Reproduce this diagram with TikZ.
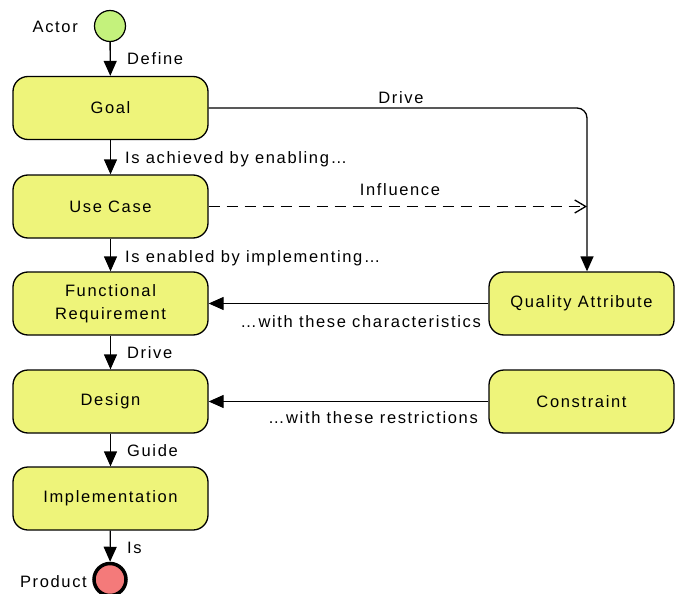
\documentclass[tikz,border=0pt]{standalone}
\usepackage{fontspec}
\setmainfont{Liberation Sans}[LetterSpace=10]
\usetikzlibrary{arrows.meta}
\definecolor{boxfill}{HTML}{EEF47A}
\definecolor{actorfill}{HTML}{C4F27C}
\definecolor{productfill}{HTML}{F47A7A}
\begin{document}
\begin{tikzpicture}[x=1pt,y=-1pt,
  every node/.style={font=\fontsize{16.5}{23}\selectfont},
  stepbox/.style={draw, line width=1.3pt, fill=boxfill, rounded corners=15pt,
    minimum width=195pt, minimum height=63pt, align=center, inner sep=0pt},
  lbl/.style={inner sep=0pt},
  flow/.style={line width=1.3pt, -{Triangle[length=15pt,width=13pt]}},
  hint/.style={line width=1.3pt, dash pattern=on 11pt off 7pt,
    -{Straight Barb[length=11pt,width=13pt]}},
]
\useasboundingbox (0,0) rectangle (675,594);

% start and end points
\node[circle, draw, line width=1.2pt, fill=actorfill, minimum size=31pt, inner sep=0pt] (actor) at (110,26) {};
\node[circle, draw, line width=3.5pt, fill=productfill, minimum size=32pt, inner sep=0pt] (product) at (110,579.5) {};

% main chain
\node[stepbox] (goal) at (110.5,108) {Goal};
\node[stepbox] (usecase) at (110.5,206.5) {Use Case};
\node[stepbox] (funreq) at (110.5,303.5) {Functional\\Requirement};
\node[stepbox] (design) at (110.5,401.5) {Design};
\node[stepbox] (impl) at (110.5,498.5) {Implementation};

% side boxes
\node[stepbox, minimum width=185pt] (quality) at (581.5,303.5) {Quality Attribute};
\node[stepbox, minimum width=185pt] (constraint) at (581.5,401.5) {Constraint};
\coordinate (qtop) at ([xshift=5.5pt]quality.north);

% connectors
\draw[flow] (actor) -- (goal);
\draw[flow] (goal) -- (usecase);
\draw[flow] (usecase) -- (funreq);
\draw[flow] (funreq) -- (design);
\draw[flow] (design) -- (impl);
\draw[flow] (impl) -- (product);
\draw[flow, rounded corners=10pt] (goal.east) -| (qtop);
\draw[hint] (usecase.east) -- (usecase.east -| qtop);
\draw[flow] (quality.west) -- (funreq.east);
\draw[flow] (constraint.west) -- (design.east);

% labels
\node[lbl, anchor=base east] (actorlbl) at (78,33) {Actor};
\node[lbl, anchor=base east] (productlbl) at (87,587) {Product};
\node[lbl, anchor=base west] (definelbl) at (127,65) {Define};
\node[lbl, anchor=base] (drivetoplbl) at (401,103) {Drive};
\node[lbl, anchor=base west] (achievedlbl) at (125,163) {Is achieved by enabling…};
\node[lbl, anchor=base] (influencelbl) at (400,195) {Influence};
\node[lbl, anchor=base west] (enabledlbl) at (125,262) {Is enabled by implementing…};
\node[lbl, anchor=base east] (charlbl) at (481,327) {…with these characteristics};
\node[lbl, anchor=base west] (drivelbl) at (127,358) {Drive};
\node[lbl, anchor=base east] (restrlbl) at (478,423) {…with these restrictions};
\node[lbl, anchor=base west] (guidelbl) at (127,456) {Guide};
\node[lbl, anchor=base west] (islbl) at (127,553) {Is};
\end{tikzpicture}
\end{document}
